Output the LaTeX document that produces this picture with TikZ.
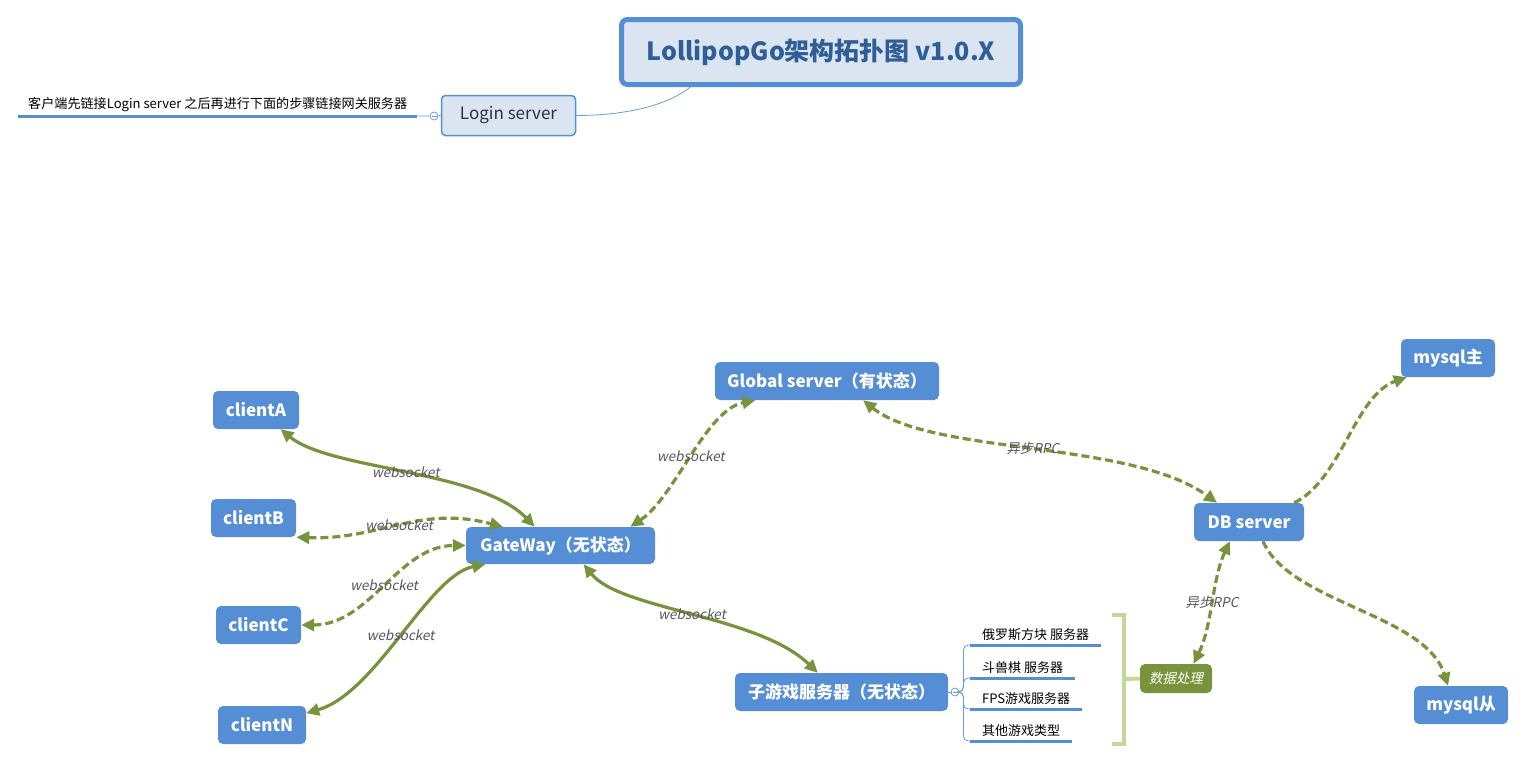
\documentclass[tikz,border=0pt]{standalone}
\usepackage{fontspec}
\setmainfont{Noto Sans CJK SC}[AutoFakeSlant=0.2]
\usetikzlibrary{arrows.meta}

\definecolor{nodeblue}{HTML}{558ED5}
\definecolor{titlefill}{HTML}{DBE5F1}
\definecolor{titletext}{HTML}{2F5E96}
\definecolor{logintext}{HTML}{243447}
\definecolor{linkblue}{HTML}{6A9BD8}
\definecolor{linkgreen}{HTML}{77933C}
\definecolor{bracketgreen}{HTML}{C3D69B}
\definecolor{lblgray}{HTML}{555560}

\begin{document}
\begin{tikzpicture}[x=1pt,y=-1pt]
    \tikzstyle{every node}=[font=\fontsize{13}{15}\selectfont]
    \tikzstyle{topic}=[rectangle, rounded corners=5pt, fill=nodeblue, text=white,
        font=\fontsize{17}{20}\selectfont\bfseries, minimum height=38pt, inner sep=0pt]
    \tikzstyle{link}=[draw=linkgreen, line width=3.2pt, >={Triangle[length=13pt,width=12pt]}]
    \tikzstyle{dashedlink}=[link, dash pattern=on 8pt off 4pt]
    \tikzstyle{lbl}=[font=\fontsize{13.5}{15}\selectfont\itshape, text=lblgray, inner sep=1pt]
    \tikzstyle{fold}=[circle, draw=linkblue, fill=white, line width=0.8pt, minimum size=8pt,
        inner sep=0pt, path picture={\draw[linkblue, line width=0.6pt]
        ([xshift=-2.5pt]path picture bounding box.center) --
        ([xshift=2.5pt]path picture bounding box.center);}]
    \tikzstyle{leaf}=[anchor=south west, inner xsep=12pt, inner ysep=4pt]
    \tikzstyle{uline}=[draw=nodeblue, line width=3pt]
    \tikzstyle{branch}=[draw=linkblue, line width=0.8pt, rounded corners=5pt]
    \tikzstyle{bracketline}=[draw=bracketgreen, line width=4pt]

    \useasboundingbox (0,0) rectangle (1525,763);

    % title and login
    \node[draw=nodeblue, line width=5pt, rounded corners=6pt, fill=titlefill,
        minimum width=399pt, minimum height=65pt, text=titletext,
        font=\fontsize{25}{29}\selectfont\bfseries] (title) at (821,52)
        {LollipopGo架构拓扑图 v1.0.X};
    \node[draw=nodeblue, line width=1.5pt, rounded corners=4pt, fill=titlefill,
        minimum width=134pt, minimum height=40pt, text=logintext,
        font=\fontsize{17}{20}\selectfont] (login) at (508.5,115.5) {Login server};
    \draw[linkblue, line width=0.8pt] (title.-165) .. controls +(-25,20) and +(45,0) .. (login.east);

    \node[leaf, inner xsep=10pt, font=\fontsize{13.1}{15}\selectfont] (note) at (18,116)
        {客户端先链接Login server 之后再进行下面的步骤链接网关服务器};
    \draw[uline] (note.south west) -- (note.south east);
    \node[fold] (loginfold) at (434,116) {};
    \draw[branch] (note.south east) -- (loginfold) -- (login.west);

    % servers
    \node[topic, minimum width=86pt] (clientA) at (256,410) {clientA};
    \node[topic, minimum width=85pt] (clientB) at (253.5,518) {clientB};
    \node[topic, minimum width=85pt] (clientC) at (258.5,625) {clientC};
    \node[topic, minimum width=88pt] (clientN) at (262,725) {clientN};
    \node[topic, minimum width=189pt, minimum height=37pt] (gate) at (560.5,545.5) {GateWay（无状态）};
    \node[topic, minimum width=224pt] (global) at (827,381) {Global server（有状态）};
    \node[topic, minimum width=110pt] (db) at (1249,522) {DB server};
    \node[topic, minimum width=94pt] (mysqlm) at (1448,358) {mysql主};
    \node[topic, minimum width=94pt] (mysqls) at (1461,705) {mysql从};
    \node[topic, minimum width=213pt] (sub) at (841.5,692) {子游戏服务器（无状态）};
    \node[topic, fill=linkgreen, minimum width=72pt, minimum height=29pt,
        font=\fontsize{13.5}{16}\selectfont\itshape] (data) at (1176,678.5) {数据处理};

    % sub games
    \node[fold] (subfold) at (955,692) {};
    \draw[branch] (sub.east) -- (subfold);
    \node[leaf] (game1) at (970,645) {俄罗斯方块 服务器};
    \node[leaf] (game2) at (970,678) {斗兽棋 服务器};
    \node[leaf] (game3) at (970,709) {FPS游戏服务器};
    \node[leaf] (game4) at (970,741) {其他游戏类型};
    \foreach \g in {game1,game2,game3,game4} {
        \draw[branch] (subfold.east) -- ++(4,0) |- (\g.south west);
        \draw[uline] (\g.south west) -- (\g.south east);
    }
    \draw[bracketline] (1112,615) -- (1124,615) -- (1124,744) -- (1112,744);
    \draw[bracketline] (1124,679) -- (data.west);

    % connectors
    \draw[link,<->] (clientA.-38) .. controls +(50,41) and +(-55,-57) .. (gate.144)
        node[lbl, midway] {websocket};
    \draw[dashedlink,<->] (clientB.south east) .. controls +(84,3) and +(-85,-22) .. (gate.162)
        node[lbl, midway] {websocket};
    \draw[dashedlink,<->] (clientC.east) .. controls +(69,0) and +(-67,0) .. (gate.west)
        node[lbl, midway] {websocket};
    \draw[link,<->] (clientN.15) .. controls +(70,-20) and +(-57,11) .. (gate.-166)
        node[lbl, midway] {websocket};
    \draw[dashedlink,<->] (gate.15) .. controls +(45,-30) and +(-50,10) .. (global.-165)
        node[lbl, midway] {websocket};
    \draw[link,<->] (gate.-39) .. controls +(37,46) and +(-60,-58) .. (sub.141)
        node[lbl, midway] {websocket};
    \draw[dashedlink,<->] (global.-28) .. controls +(68,55) and +(-87,-63) .. (db.149)
        node[lbl, midway] {异步RPC};
    \draw[dashedlink,<->] (db.-135) .. controls +(-18,39) and +(19,-39) .. (data.40)
        node[lbl, midway] {异步RPC};
    \draw[dashedlink,->] (db.23) .. controls +(47,-23) and +(-52,18) .. (mysqlm.-155);
    \draw[dashedlink,->] (db.-54) .. controls +(27,62) and +(-23,-72) .. (mysqls.124);
\end{tikzpicture}
\end{document}
